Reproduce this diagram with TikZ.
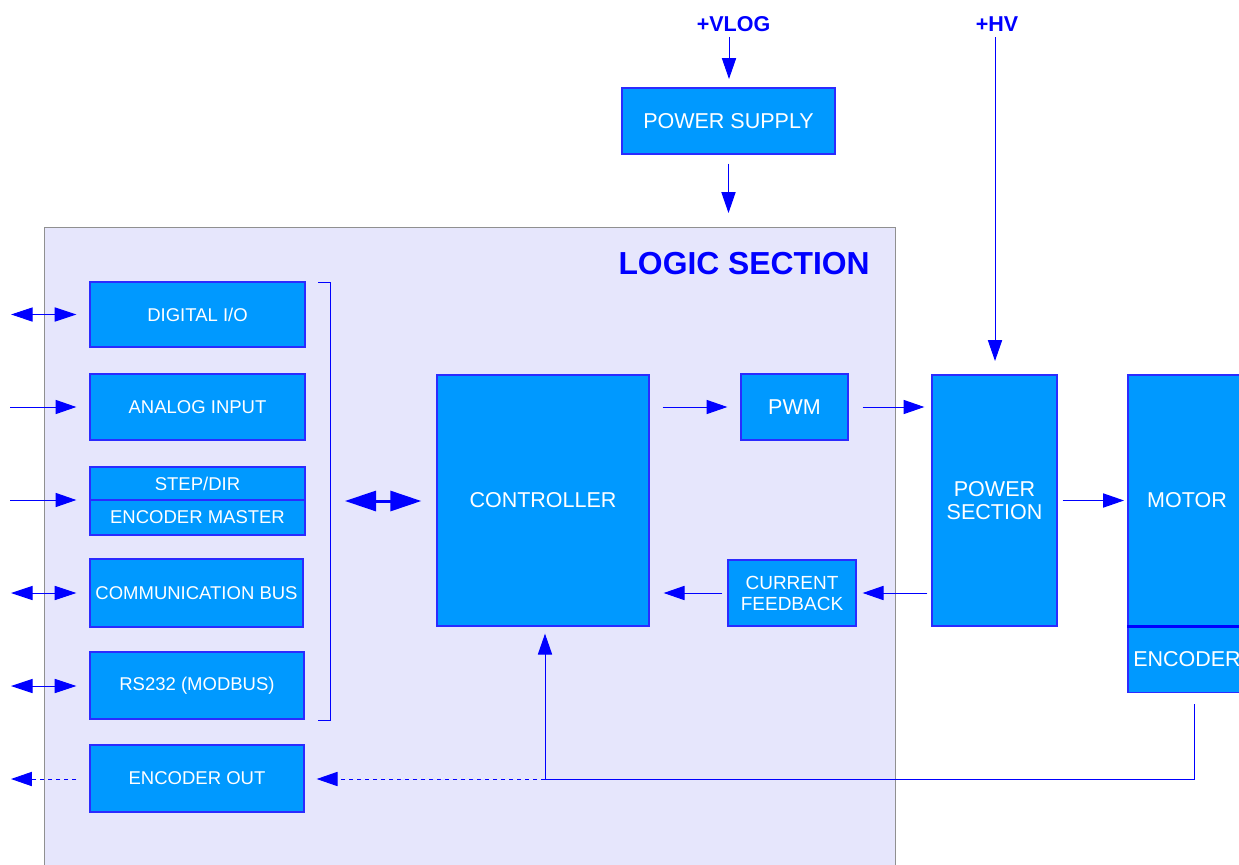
\documentclass[tikz,border=0pt]{standalone}
\usepackage{fontspec}
\setmainfont{Liberation Sans}
\usetikzlibrary{arrows.meta}
\definecolor{boxfill}{HTML}{0099FF}
\definecolor{boxline}{HTML}{2B2BFF}
\definecolor{lav}{HTML}{E6E6FC}
\definecolor{lavline}{HTML}{909090}
\definecolor{ablue}{HTML}{0000FF}
\tikzset{
  box/.style={draw=boxline, line width=0.8pt, fill=boxfill, text=white, inner sep=0pt,
              font=\fontsize{11.1}{12.6}\selectfont, align=center},
  bigbox/.style={box, font=\fontsize{12.9}{13.8}\selectfont},
  arr/.style={draw=ablue, line width=0.6pt, -{Triangle[length=12.5pt,width=8.5pt]}},
  darr/.style={draw=ablue, line width=0.6pt, {Triangle[length=13pt,width=8.5pt]}-{Triangle[length=13pt,width=8.5pt]}},
  dotarr/.style={draw=ablue, line width=0.6pt, dash pattern=on 2.4pt off 2.4pt, -{Triangle[length=12.5pt,width=8.5pt]}},
  plain/.style={draw=ablue, line width=0.6pt},
  lbl/.style={text=ablue, font=\bfseries\fontsize{12.9}{14}\selectfont, inner sep=0pt},
}
\begin{document}
\begin{tikzpicture}[x=0.6pt,y=-0.6pt]
\useasboundingbox (0,0) rectangle (1239,864);
% logic section background
\node[draw=lavline, line width=0.6pt, fill=lav, minimum width=510.6pt, minimum height=396pt, anchor=north west, inner sep=0pt] (logic) at (44,227) {};
\node[text=ablue, font=\bfseries\fontsize{19.1}{22}\selectfont, anchor=east, inner sep=0pt] (logictitle) at (870,264) {LOGIC SECTION};

% left column boxes
\node[box, minimum width=129pt, minimum height=39pt] (dio) at (197.5,314.5) {DIGITAL I/O};
\node[box, minimum width=129pt, minimum height=39.6pt] (ain) at (197.5,407) {ANALOG INPUT};
\node[box, minimum width=129pt, minimum height=19.8pt] (step) at (197.5,483.5) {STEP/DIR};
\node[box, minimum width=129pt, minimum height=21pt] (encm) at (197.5,517.5) {ENCODER MASTER};
\node[box, minimum width=127.8pt, minimum height=40.8pt] (bus) at (196.5,593) {COMMUNICATION BUS};
\node[box, minimum width=128.4pt, minimum height=40.2pt] (rs) at (197,685.5) {RS232 (MODBUS)};
\node[box, minimum width=128.4pt, minimum height=40.2pt] (encout) at (197,778.5) {ENCODER OUT};

% bracket
\draw[plain] (318,282) -- (330,282) -- (330,720) -- (318,720);
\coordinate (brk) at (330,501);

% main blocks
\node[bigbox, minimum width=127.2pt, minimum height=150.6pt] (ctrl) at (543,500.5) {CONTROLLER};
\node[bigbox, minimum width=64.2pt, minimum height=39.6pt] (pwm) at (794.5,407) {PWM};
\node[box, font=\fontsize{11.4}{12.6}\selectfont, minimum width=76.8pt, minimum height=39.6pt] (cfb) at (792,593) {CURRENT\\FEEDBACK};
\node[bigbox, minimum width=75pt, minimum height=150.6pt] (ps) at (994.5,500.5) {POWER\\SECTION};
\node[bigbox, minimum width=70.8pt, minimum height=150.6pt] (motor) at (1187,500.5) {MOTOR};
\node[bigbox, minimum width=70.8pt, minimum height=39.6pt] (enc) at (1187,659.5) {ENCODER};
\draw[draw=ablue, line width=1.8pt] (motor.south west) -- (motor.south east);
\node[bigbox, minimum width=127.8pt, minimum height=39.6pt] (psu) at (728.5,121) {POWER SUPPLY};

% labels
\node[lbl] (vlog) at (733.5,24) {+VLOG};
\node[lbl] (hv) at (997,24) {+HV};

% power arrows
\draw[arr] (729,37) -- (729,79);
\draw[arr, shorten <=5.4pt, shorten >=8.4pt] (psu.south) -- (psu.south |- logic.north);
\draw[arr] (995,37) -- (995,361);

% left external arrows
\coordinate (e1) at (11,314.5);
\coordinate (e2) at (10,407);
\coordinate (e3) at (10,500);
\coordinate (e4) at (11,593);
\coordinate (e5) at (11,686);
\coordinate (e6) at (11,779);
\draw[darr, shorten >=7.8pt] (e1) -- (e1 -| dio.west);
\draw[arr, shorten >=7.8pt] (e2) -- (e2 -| ain.west);
\draw[arr, shorten >=7.8pt] (e3) -- (e3 -| encm.west);
\draw[darr, shorten >=7.8pt] (e4) -- (e4 -| bus.west);
\draw[darr, shorten >=7.8pt] (e5) -- (e5 -| rs.west);
\draw[dotarr, shorten <=7.8pt] (e6 -| encout.west) -- (e6);

% bus double arrow
\draw[draw=ablue, line width=1.8pt, {Triangle[length=18.6pt,width=12pt]}-{Triangle[length=18.6pt,width=12pt]}, shorten <=9pt, shorten >=9pt] (brk) -- (brk -| ctrl.west);

% signal path
\draw[arr, shorten <=7.8pt, shorten >=7.8pt] (ctrl.east |- pwm.west) -- (pwm.west);
\draw[arr, shorten <=8.4pt, shorten >=4.2pt] (pwm.east) -- (pwm.east -| ps.west);
\draw[arr, shorten <=3pt, shorten >=2pt] (ps.east) -- (motor.west);
\draw[arr, shorten <=2.4pt, shorten >=3.6pt] (ps.west |- cfb.east) -- (cfb.east);
\draw[arr, shorten <=3pt, shorten >=8.4pt] (cfb.west) -- (cfb.west -| ctrl.east);

% encoder feedback
\coordinate (fbc) at (1194,779);
\coordinate (fbj) at (545,779);
\draw[plain, shorten <=6.6pt] (enc.south -| fbc) -- (fbc) -- (fbj);
\draw[arr, shorten >=4.2pt] (fbj) -- (fbj |- ctrl.south);
\draw[dotarr, shorten >=7.2pt] (fbj) -- (fbj -| encout.east);
\end{tikzpicture}
\end{document}
